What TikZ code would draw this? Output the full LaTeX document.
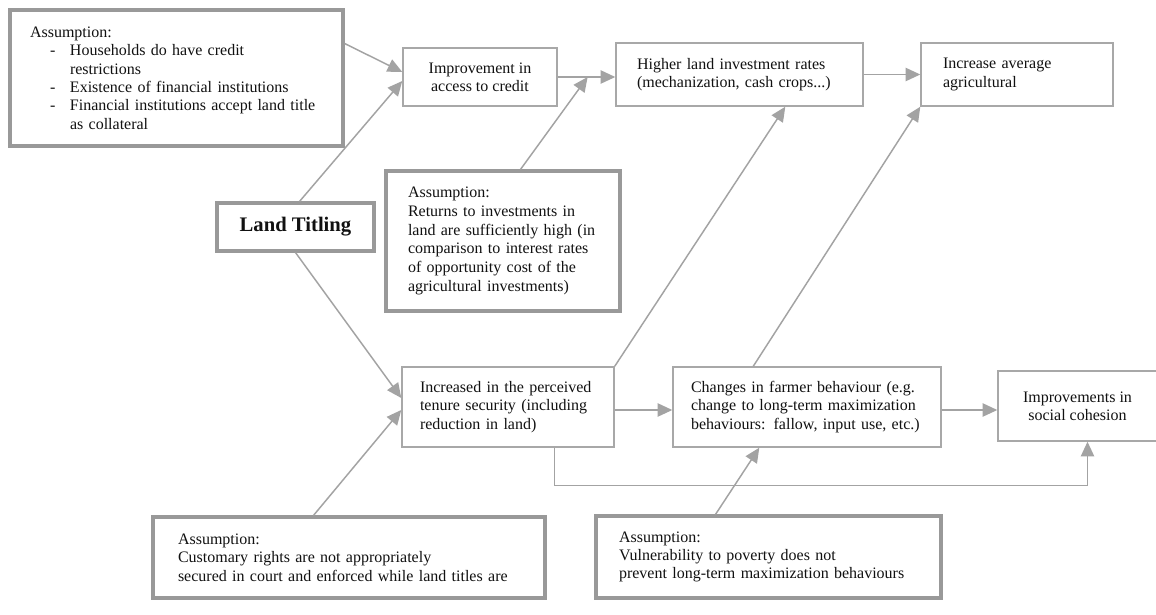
\documentclass[tikz,border=0pt]{standalone}
\usepackage{fontspec}
\setmainfont{Liberation Serif}
\usetikzlibrary{arrows.meta,calc}
\definecolor{linegray}{HTML}{A3A3A3}
\definecolor{boxgray}{HTML}{A8A8A8}
\definecolor{asmgray}{HTML}{999999}
\definecolor{textgray}{HTML}{111111}
\newcommand{\dashitem}[1]{\makebox[30pt][l]{\hspace*{15pt}-}#1}
\newcommand{\dashcont}[1]{\hspace*{30pt}#1}

\begin{document}
\begin{tikzpicture}[x=0.75pt,y=-0.75pt,
	every node/.style={text=textgray, font=\fontsize{12}{13.8}\selectfont},
	stage/.style={draw=boxgray, line width=1.1pt, fill=white, inner xsep=0pt, inner ysep=0pt},
	asm/.style={draw=asmgray, line width=2.3pt, fill=white, inner xsep=0pt, inner ysep=0pt, align=left},
	link/.style={draw=linegray, line width=1.1pt, -{Triangle[length=11pt,width=10pt]}}]
	
	\path[use as bounding box, fill=white] (0,0) rectangle (1156,614);
	
	% top row
	\node[asm, minimum width=249.75pt, minimum height=102pt, text width=219.75pt] (A1) at (176.5,78)
		{Assumption:\\ \dashitem{Households do have credit}\\ \dashcont{restrictions}\\ \dashitem{Existence of financial institutions}\\ \dashitem{Financial institutions accept land title}\\ \dashcont{as collateral}};
	\node[stage, minimum width=115.5pt, minimum height=43.5pt, align=center] (imp) at (480,77) {Improvement in\\access to credit};
	\node[stage, minimum width=185.25pt, minimum height=47.25pt, text width=153.75pt, align=left] (inv) at (739.5,74.5) {Higher land investment rates\\(mechanization, cash crops...)};
	\node[stage, minimum width=144pt, minimum height=47.25pt, text width=111pt, align=left] (yield) at (1017,74.5) {Increase average\\agricultural};
	
	% middle
	\node[draw=asmgray, line width=2.3pt, fill=white, minimum width=117.75pt, minimum height=36pt, font=\fontsize{15.5}{18}\selectfont\bfseries] (LT) at (295.5,227) {Land Titling};
	\node[asm, minimum width=175.5pt, minimum height=105pt, text width=142.5pt, font=\fontsize{12}{14.1}\selectfont] (A2) at (503,241)
		{Assumption:\\Returns to investments in\\land are sufficiently high (in\\comparison to interest rates\\of opportunity cost of the\\agricultural investments)};
	
	% bottom row
	\node[stage, minimum width=159pt, minimum height=60pt, text width=132pt, align=left] (sec) at (508,407) {Increased in the perceived\\tenure security (including\\reduction in land)};
	\node[stage, minimum width=201pt, minimum height=60pt, text width=174pt, align=left] (beh) at (807,407) {Changes in farmer behaviour (e.g.\\change to long-term maximization\\behaviours: fallow, input use, etc.)};
	\node[stage, minimum width=119.25pt, minimum height=52.5pt, align=center] (soc) at (1077.5,406) {Improvements in\\social cohesion};
	\node[asm, minimum width=294pt, minimum height=60.75pt, text width=256.5pt] (A3) at (349,557.5)
		{Assumption:\\Customary rights are not appropriately\\secured in court and enforced while land titles are};
	\node[asm, minimum width=258.75pt, minimum height=61.5pt, text width=224.25pt] (A4) at (768.5,557)
		{Assumption:\\Vulnerability to poverty does not\\prevent long-term maximization behaviours};
	
	\draw[link] ($(A1.north east)+(0,35)$) -- ($(imp.west)+(0,-5)$);
	\draw[link] ($(LT.north)+(4,0)$) -- ($(imp.west)+(0,4)$);
	\draw[link] (imp.east) -- (imp.east -| inv.west);
	\coordinate (j1) at ($(imp.east)!0.52!(imp.east -| inv.west)$);
	\draw[link] ($(A2.north west)+(136,0)$) -- (j1);
	\draw[link] (inv.east) -- (inv.east -| yield.west);
	\draw[link] (LT.south) -- ($(sec.west)+(0,-9)$);
	\draw[link] ($(A3.north west)+(162,0)$) -- ($(sec.west)+(0,3)$);
	\draw[link] (sec.north east) -- ($(inv.south west)+(170,0)$);
	\draw[link] ($(sec.east)+(0,3)$) -- ($(sec.east -| beh.west)+(0,3)$);
	\draw[link] ($(beh.east)+(0,3)$) -- ($(beh.east -| soc.west)+(0,3)$);
	\draw[link] ($(beh.north west)+(81,0)$) -- (yield.south west);
	\draw[link] ($(A4.north west)+(121,0)$) -- ($(beh.south west)+(87,0)$);
	\draw[link] ($(sec.south west)+(153,0)$) -- ++(0,38) -| ($(soc.south)+(10,0)$);
\end{tikzpicture}
\end{document}
